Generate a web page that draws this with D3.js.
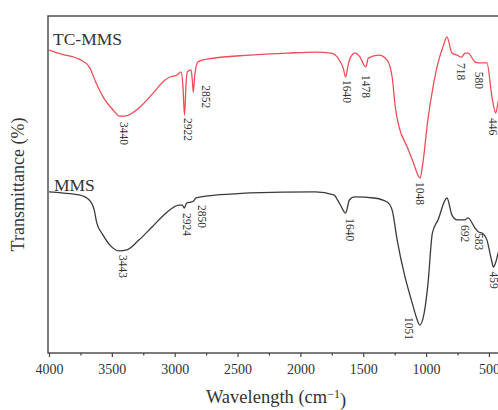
<!DOCTYPE html>
<html>
<head>
<meta charset="utf-8">
<script src="https://cdn.jsdelivr.net/npm/d3@7"></script>
<style>
  html, body { margin: 0; padding: 0; background: #fff; overflow: hidden; }
  svg { display: block; }
  text { font-family: "Liberation Serif", "Times New Roman", serif; fill: #333; }
</style>
</head>
<body>
<svg id="chart" width="498" height="410"></svg>
<script>
// FT-IR spectra: wavenumber (cm^-1) vs transmittance (arbitrary offset, %)
const tcWavenumbers = [4000, 3900, 3760, 3680, 3625, 3570, 3490, 3440, 3400, 3276, 3170, 3077, 3037, 2980, 2950, 2935, 2922, 2910, 2900, 2870, 2860, 2852, 2840, 2815, 2745, 2400, 2100, 1880, 1755, 1700, 1660, 1640, 1620, 1600, 1565, 1525, 1490, 1478, 1460, 1375, 1310, 1270, 1245, 1215, 1150, 1100, 1065, 1048, 1030, 985, 945, 905, 866, 834, 794, 754, 718, 690, 667, 611, 580, 555, 516, 476, 446, 428, 400];
const tcTransmittance = [89.9, 88.7, 87.2, 84.9, 80.1, 76.0, 72.1, 70.3, 70.3, 73.0, 77.2, 81.0, 81.9, 82.5, 83.4, 79.5, 70.6, 79.5, 83.4, 84.0, 81.0, 77.4, 82.5, 86.4, 87.2, 88.4, 89.0, 89.3, 89.0, 87.5, 84.6, 81.9, 85.5, 87.8, 89.0, 87.8, 85.2, 84.9, 87.5, 88.4, 86.9, 81.9, 73.0, 67.1, 61.1, 56.4, 52.8, 51.9, 55.2, 69.4, 78.9, 86.1, 90.8, 93.8, 89.0, 88.4, 87.8, 89.0, 89.0, 86.4, 86.1, 86.1, 86.1, 76.0, 71.2, 74.2, 78.0];

const mmsWavenumbers = [4000, 3900, 3760, 3680, 3640, 3620, 3570, 3515, 3443, 3380, 3285, 3180, 3070, 2965, 2940, 2924, 2905, 2870, 2850, 2830, 2740, 2530, 2400, 1880, 1735, 1690, 1640, 1610, 1570, 1415, 1310, 1270, 1230, 1175, 1110, 1070, 1051, 1015, 985, 950, 905, 834, 794, 754, 692, 667, 611, 583, 555, 516, 476, 465, 445, 428, 400];
const mmsTransmittance = [47.8, 47.5, 46.9, 45.4, 42.4, 38.6, 35.0, 32.0, 30.3, 30.6, 33.5, 37.4, 41.5, 43.9, 43.9, 43.0, 44.5, 44.8, 45.1, 46.0, 46.6, 47.2, 47.5, 47.8, 46.9, 44.5, 41.5, 45.4, 46.3, 46.0, 44.8, 42.4, 33.5, 23.7, 14.8, 9.8, 8.3, 11.9, 20.5, 35.6, 39.5, 46.0, 40.9, 39.5, 39.5, 40.1, 37.1, 35.9, 35.6, 33.5, 27.0, 25.5, 27.0, 29.5, 32.0];

// Band assignments written next to each spectrum
const tcPeaks = [3440, 2922, 2852, 1640, 1478, 1048, 718, 580, 446];
const mmsPeaks = [3443, 2924, 2850, 1640, 1051, 692, 583, 459];

// Axis ticks
const majorTicks = [4000, 3500, 3000, 2500, 2000, 1500, 1000, 500];
const minorTicks = [3750, 3250, 2750, 2250, 1750, 1250, 750];

// Label placement nudges (px): [dx, gap below curve]
const tcNudge = [[5, 6], [4, 3], [13, -7], [1, 3], [0, 8], [0, 4], [0, 6], [0, 9], [-3, 5]];
const mmsNudge = [[4, 4], [3, 5], [8, 4], [4, 5], [-11, -8], [0, 5], [1, 1], [0, 6]];

const svg = d3.select("#chart");
const plotLeft = 48, plotTop = 16, plotBottom = 353;

const x = d3.scaleLinear().domain([4000, 400]).range([49, 501.5]);
const y = d3.scaleLinear().domain([0, 100]).range([plotBottom, plotTop]);

// frame
svg.append("rect")
  .attr("x", plotLeft).attr("y", plotTop)
  .attr("width", x(400) - plotLeft + 1).attr("height", plotBottom - plotTop)
  .attr("fill", "none").attr("stroke", "#444").attr("stroke-width", 1.4);

// bottom axis
const axis = d3.axisBottom(x).tickValues(majorTicks).tickSize(4).tickSizeOuter(0).tickFormat(d3.format("d"));
const gAxis = svg.append("g").attr("transform", `translate(0,${plotBottom})`).call(axis);
gAxis.select(".domain").remove();
gAxis.selectAll(".tick line").attr("stroke", "#444").attr("stroke-width", 1.2);
gAxis.selectAll(".tick text")
  .attr("y", 11).attr("dy", "0.71em")
  .style("font-family", "'Liberation Serif', serif").style("font-size", "14px").attr("fill", "#333");

const minorAxis = d3.axisBottom(x).tickValues(minorTicks).tickSize(2.5).tickSizeOuter(0).tickFormat("");
const gMinor = svg.append("g").attr("transform", `translate(0,${plotBottom})`).call(minorAxis);
gMinor.select(".domain").remove();
gMinor.selectAll(".tick line").attr("stroke", "#444").attr("stroke-width", 1.2);

// spectra
const line = d3.line().x(d => x(d[0])).y(d => y(d[1])).curve(d3.curveMonotoneX);
const tcData = d3.zip(tcWavenumbers, tcTransmittance);
const mmsData = d3.zip(mmsWavenumbers, mmsTransmittance);

svg.append("path").datum(tcData).attr("d", line)
  .attr("fill", "none").attr("stroke", "#ee4d57").attr("stroke-width", 1.3);
svg.append("path").datum(mmsData).attr("d", line)
  .attr("fill", "none").attr("stroke", "#3a3a3a").attr("stroke-width", 1.3);

// value of a spectrum at a given wavenumber (linear between read points)
function valueAt(ws, vs, w) {
  for (let i = 0; i < ws.length - 1; i++) {
    if (w <= ws[i] && w >= ws[i + 1]) {
      const t = (ws[i] - w) / (ws[i] - ws[i + 1]);
      return vs[i] + t * (vs[i + 1] - vs[i]);
    }
  }
  return vs[vs.length - 1];
}

function peakLabels(peaks, ws, vs, nudge) {
  peaks.forEach((p, i) => {
    const px = x(p) + nudge[i][0];
    const py = y(valueAt(ws, vs, p)) + nudge[i][1];
    svg.append("text")
      .attr("transform", `translate(${px},${py}) rotate(90)`)
      .attr("dy", "0.35em")
      .style("font-size", "11.5px")
      .text(p);
  });
}
peakLabels(tcPeaks, tcWavenumbers, tcTransmittance, tcNudge);
peakLabels(mmsPeaks, mmsWavenumbers, mmsTransmittance, mmsNudge);

// series names
svg.append("text").attr("x", 53).attr("y", 45).style("font-size", "17.5px").text("TC-MMS");
svg.append("text").attr("x", 54).attr("y", 191).style("font-size", "17.5px").text("MMS");

// axis titles
const xt = svg.append("text").attr("x", 276).attr("y", 403)
  .attr("text-anchor", "middle").style("font-size", "18.5px");
xt.append("tspan").text("Wavelength (cm");
xt.append("tspan").attr("dy", "-0.45em").style("font-size", "12px").text("\u22121");
xt.append("tspan").attr("dy", "0.45em").text(")");

svg.append("text")
  .attr("transform", `translate(24,${(plotTop + plotBottom) / 2}) rotate(-90)`)
  .attr("text-anchor", "middle").style("font-size", "18px")
  .text("Transmittance (%)");
</script>
</body>
</html>
